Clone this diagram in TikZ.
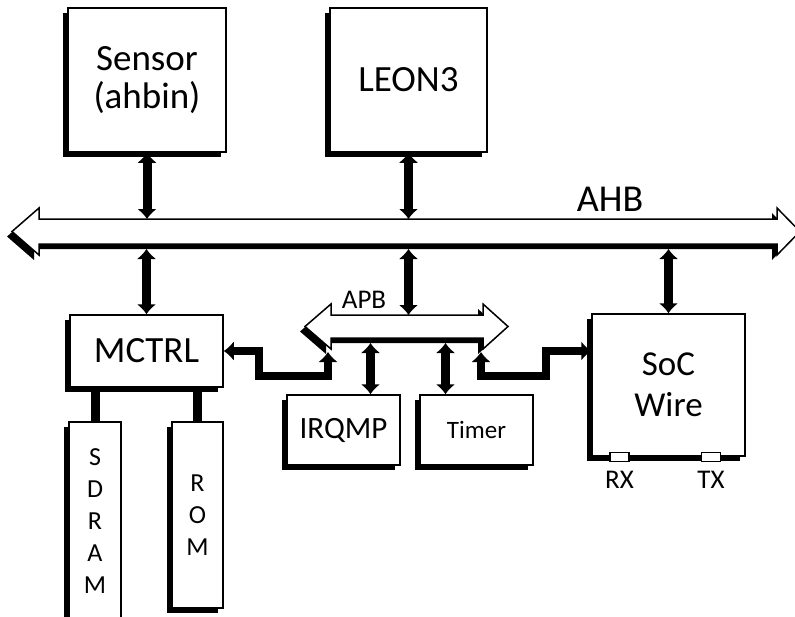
\documentclass[tikz,border=0pt]{standalone}
\usepackage{fontspec}
\setmainfont{Carlito}
\usetikzlibrary{arrows.meta,shadows}
\begin{document}
\begin{tikzpicture}[x=1pt,y=-1pt,line join=miter,
  box/.style={draw,line width=1.5pt,fill=white,inner sep=0pt,align=center,drop shadow={shadow xshift=-5pt,shadow yshift=-5pt,fill=black,opacity=1}},
  bus/.style={draw,line width=1.5pt,fill=white,drop shadow={shadow xshift=-5pt,shadow yshift=-5pt,fill=black,opacity=1}},
  link/.style={line width=9pt,{Latex[length=10pt,width=20pt]}-{Latex[length=10pt,width=20pt]}},
  wire/.style={line width=9pt},
  pad/.style={draw,line width=1.2pt,fill=white,minimum width=19pt,minimum height=9pt,inner sep=0pt}]
\useasboundingbox[fill=white] (0,0) rectangle (795,616);
\draw[bus] (12,231.5) -- (39,208) -- (39,219) -- (777,219) -- (777,208) -- (800,231.5) -- (777,255) -- (777,244) -- (39,244) -- (39,255) -- cycle;
\draw[bus] (305,326.5) -- (331,304) -- (331,315) -- (483,315) -- (483,304) -- (508,326.5) -- (483,349) -- (483,338) -- (331,338) -- (331,349) -- cycle;
\node[font=\fontsize{38}{44}\selectfont] (ahb) at (610,199) {AHB}; \node[font=\fontsize{27}{30}\selectfont] (apb) at (364,300) {APB};
\coordinate (ahbN) at (0,219); \coordinate (ahbS) at (0,249); \coordinate (apbN) at (0,315); \coordinate (apbS) at (0,343);
\coordinate (apbL) at (328,352); \coordinate (apbR) at (481,352);
\node[box,minimum width=158pt,minimum height=144pt,font=\fontsize{37}{42}\selectfont] (sensor) at (147,80) {\raisebox{-4pt}{Sensor}\\(ahbin)};
\node[box,minimum width=157pt,minimum height=144pt,font=\fontsize{37}{42}\selectfont] (leon) at (408.5,80) {LEON3};
\node[box,minimum width=153pt,minimum height=72pt,font=\fontsize{37}{42}\selectfont] (mctrl) at (146.5,351) {MCTRL};
\node[box,minimum width=52pt,minimum height=198pt,font=\fontsize{26}{32}\selectfont] (sdram) at (95,521) {S\\D\\R\\A\\M};
\node[box,minimum width=51pt,minimum height=186pt,font=\fontsize{26}{32}\selectfont] (rom) at (197.5,515) {R\\O\\M};
\node[box,minimum width=113pt,minimum height=70pt,font=\fontsize{31}{36}\selectfont] (irqmp) at (343.5,430) {IRQMP};
\node[box,minimum width=113pt,minimum height=70pt,font=\fontsize{25}{30}\selectfont] (timer) at (476.5,430) {Timer};
\node[box,minimum width=153pt,minimum height=142pt,font=\fontsize{35}{41}\selectfont] (soc) at (668.5,385) {SoC\\Wire};
\node[font=\fontsize{27}{28}\selectfont] (rx) at (619.5,480) {RX}; \node[font=\fontsize{27}{28}\selectfont] (tx) at (711,480) {TX};
\node[pad] (rxpad) at (619.5,457) {}; \node[pad] (txpad) at (711,457) {};
\coordinate (irqin) at ([xshift=27pt]irqmp.north); \coordinate (timin) at ([xshift=-31pt]timer.north); \coordinate (socin) at ([yshift=34pt]soc.west);
\draw[link] (sensor.south) -- (sensor.south |- ahbN); \draw[link] (leon.south) -- (leon.south |- ahbN);
\draw[link] (mctrl.north |- ahbS) -- (mctrl.north); \draw[link] (leon.south |- ahbS) -- (leon.south |- apbN); \draw[link] (soc.north |- ahbS) -- (soc.north);
\draw[link] (irqin |- apbS) -- (irqin); \draw[link] (timin |- apbS) -- (timin);
\draw[link,line width=8pt] (apbL) -- ++(0,24) -| ([xshift=35pt]mctrl.east) -- (mctrl.east);
\draw[link,line width=8pt] (apbR) -- ++(0,24) -| ([xshift=-45pt]socin) -- (socin);
\draw[wire] (mctrl.south -| sdram.north) -- (sdram.north); \draw[wire] (mctrl.south -| rom.north) -- (rom.north);
\end{tikzpicture}
\end{document}
